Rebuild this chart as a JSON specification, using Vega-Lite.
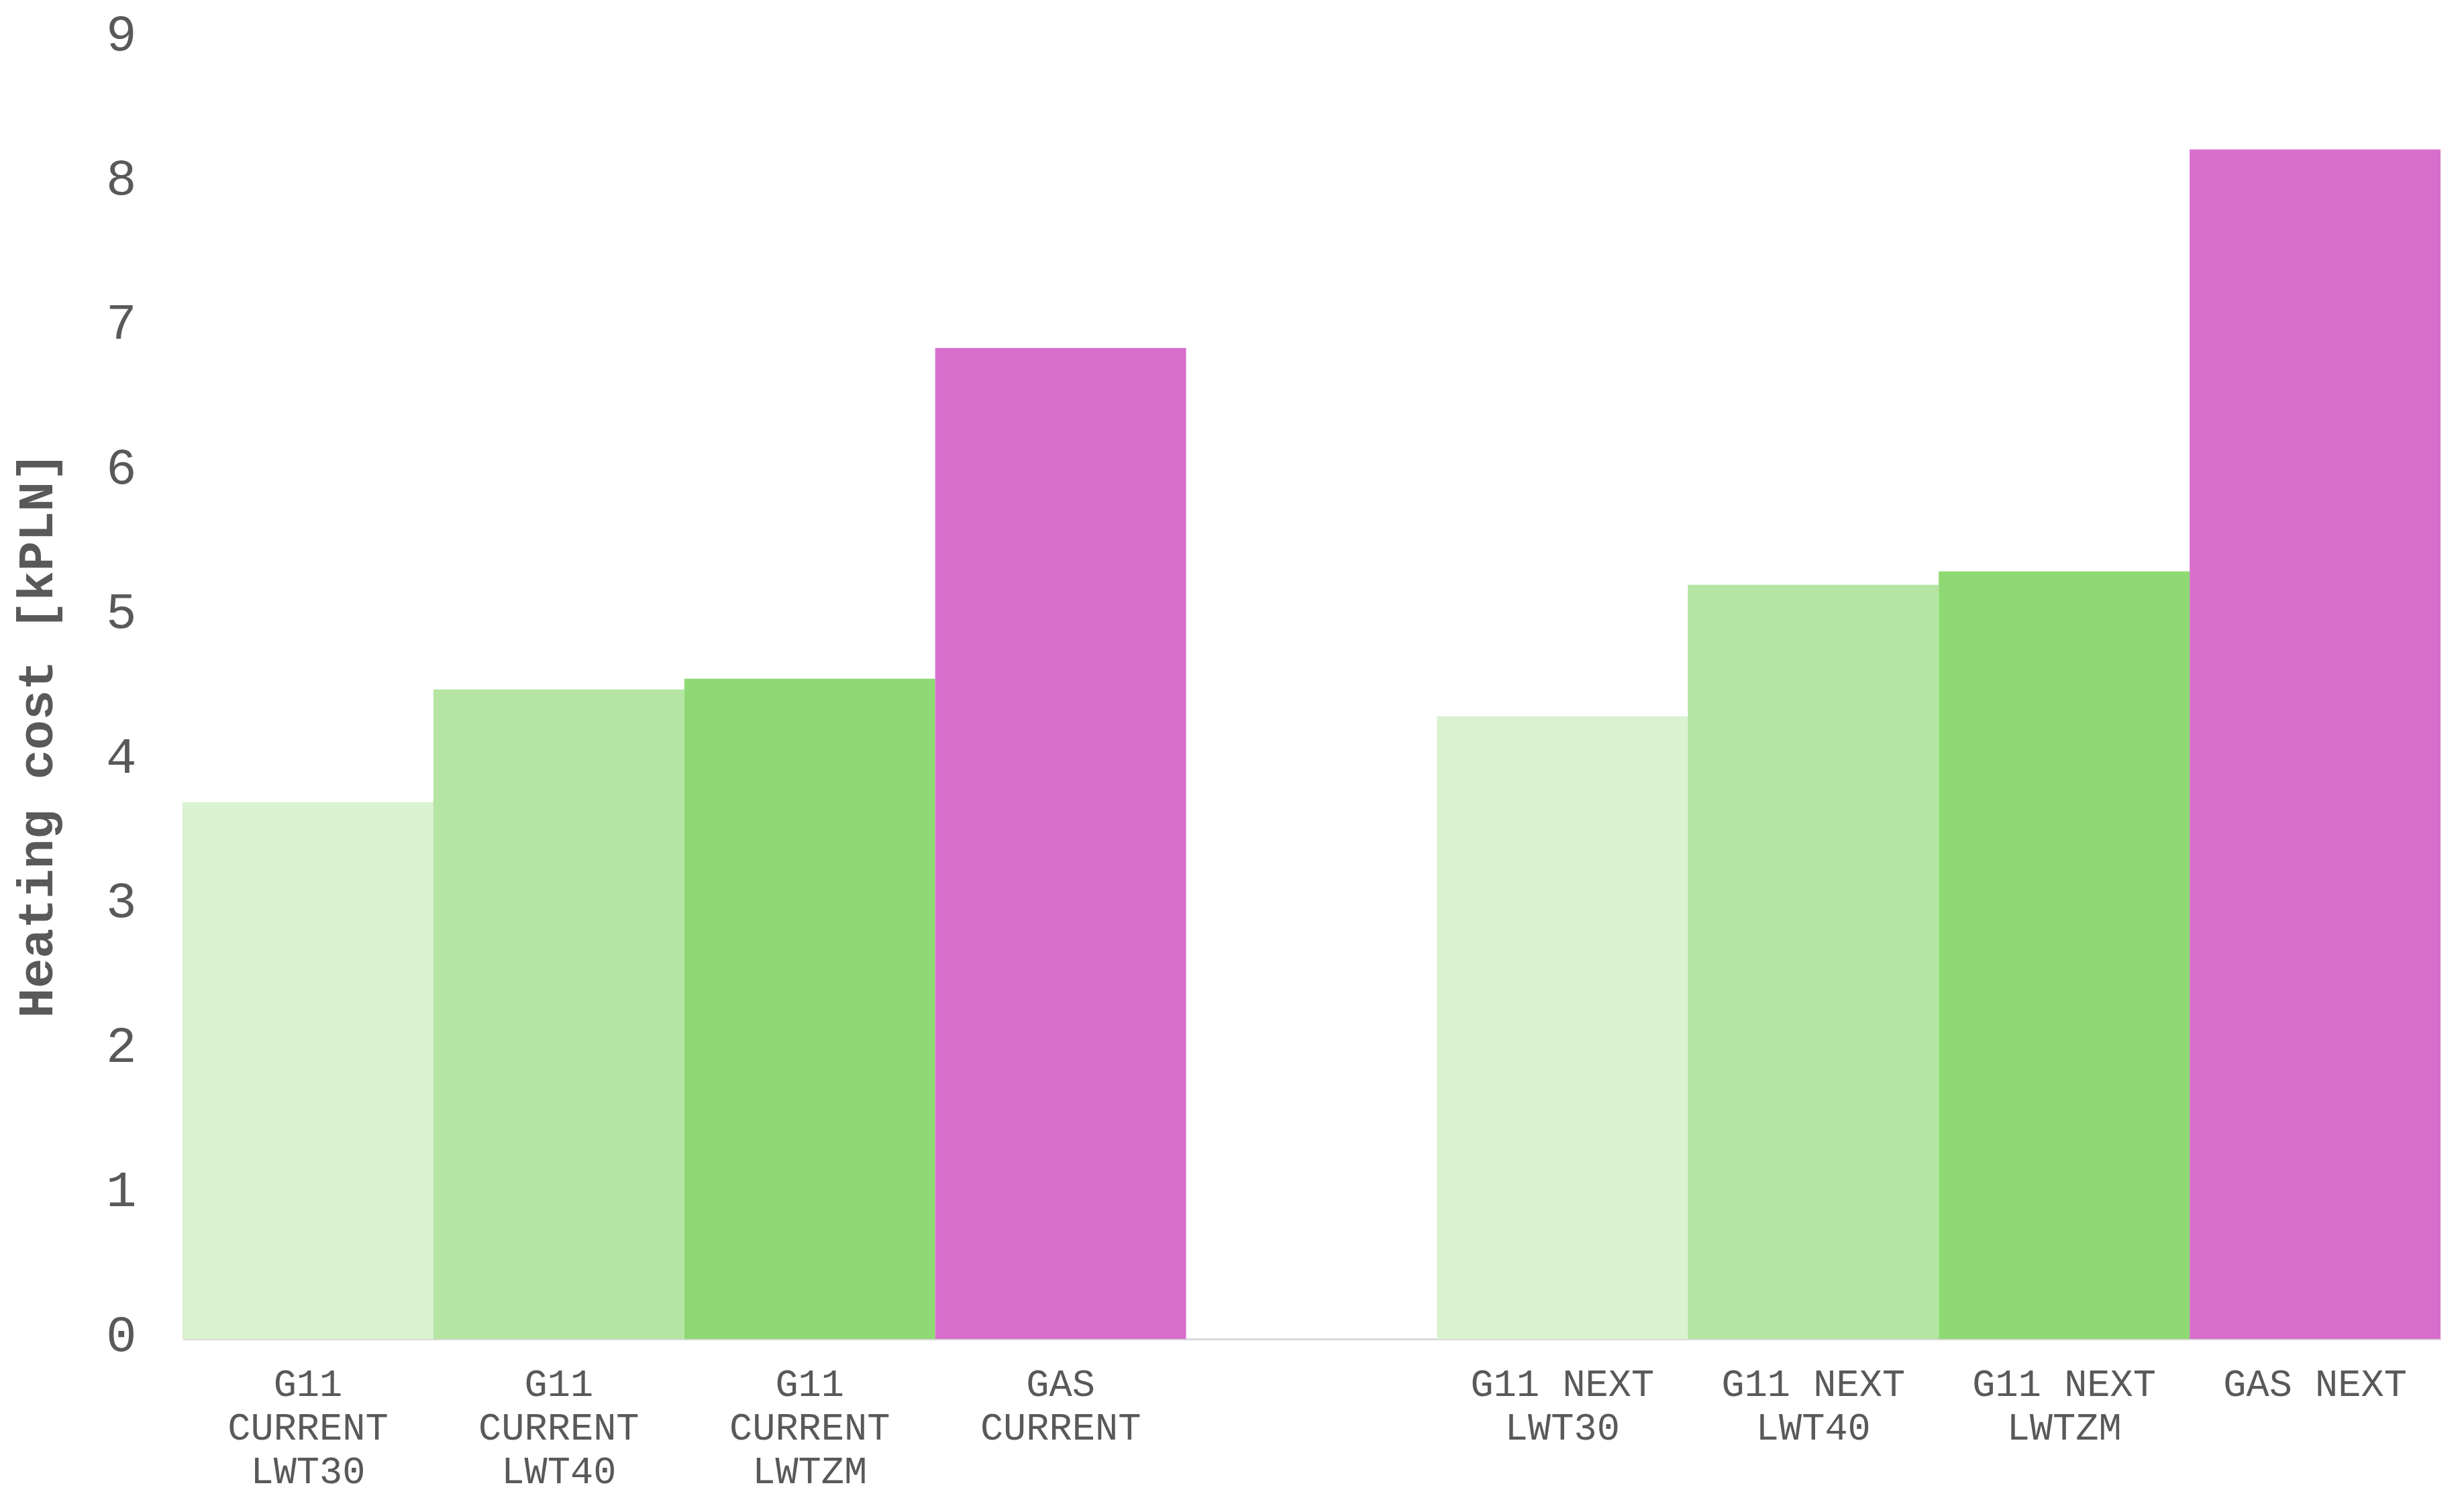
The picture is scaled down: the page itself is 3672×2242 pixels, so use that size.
{
  "$schema": "https://vega.github.io/schema/vega-lite/v6.json",
  "autosize": {"type": "none"},
  "padding": {"left": 272, "top": 57, "right": 35, "bottom": 246},
  "width": 3365,
  "height": 1939,
  "background": "white",
  "config": {"view": {"stroke": null}},
  "data": {
    "values": [
      {"label": "G11 CURRENT LWT30", "kind": "LWT30", "cost": 3.714},
      {"label": "G11 CURRENT LWT40", "kind": "LWT40", "cost": 4.494},
      {"label": "G11 CURRENT LWTZM", "kind": "LWTZM", "cost": 4.568},
      {"label": "GAS CURRENT", "kind": "GAS", "cost": 6.857},
      {"label": "G11 NEXT LWT30", "kind": "LWT30", "cost": 4.308},
      {"label": "G11 NEXT LWT40", "kind": "LWT40", "cost": 5.218},
      {"label": "G11 NEXT LWTZM", "kind": "LWTZM", "cost": 5.311},
      {"label": "GAS NEXT", "kind": "GAS", "cost": 8.231}
    ]
  },
  "mark": {"type": "bar"},
  "encoding": {
    "x": {
      "field": "label",
      "type": "nominal",
      "sort": null,
      "scale": {
        "domain": ["G11 CURRENT LWT30", "G11 CURRENT LWT40", "G11 CURRENT LWTZM", "GAS CURRENT", " ", "G11 NEXT LWT30", "G11 NEXT LWT40", "G11 NEXT LWTZM", "GAS NEXT"],
        "paddingInner": 0,
        "paddingOuter": 0
      },
      "axis": {
        "title": null,
        "labelAngle": 0,
        "labelExpr": "indexof(datum.label, 'CURRENT') >= 0 ? split(datum.label, ' ') : split(replace(datum.label, 'NEXT ', 'NEXT|'), '|')",
        "labelFont": "Liberation Mono",
        "labelFontSize": 57,
        "labelColor": "#595959",
        "labelLineHeight": 65,
        "labelBaseline": "alphabetic",
        "labelPadding": 84,
        "labelLimit": 0,
        "ticks": false,
        "tickSize": 0,
        "domainColor": "#d9d9d9",
        "domainWidth": 3,
        "grid": false
      }
    },
    "y": {
      "field": "cost",
      "type": "quantitative",
      "scale": {"domain": [0, 9], "nice": false},
      "axis": {
        "title": "Heating cost [kPLN]",
        "titleFont": "Liberation Mono",
        "titleFontSize": 74,
        "titleFontWeight": "bold",
        "titleColor": "#595959",
        "titleX": -195,
        "titleY": 1038,
        "titleAngle": -90,
        "titleAlign": "center",
        "titleBaseline": "alphabetic",
        "values": [0, 1, 2, 3, 4, 5, 6, 7, 8, 9],
        "labelFont": "Liberation Mono",
        "labelFontSize": 76,
        "labelColor": "#595959",
        "labelPadding": 69,
        "labelBaseline": "middle",
        "labelOffset": -6,
        "ticks": false,
        "tickSize": 0,
        "domain": false,
        "grid": false
      }
    },
    "color": {
      "field": "kind",
      "type": "nominal",
      "scale": {
        "domain": ["LWT30", "LWT40", "LWTZM", "GAS"],
        "range": ["#d9f2d0", "#b4e5a2", "#8ed973", "#d86ecc"]
      },
      "legend": null
    }
  }
}
